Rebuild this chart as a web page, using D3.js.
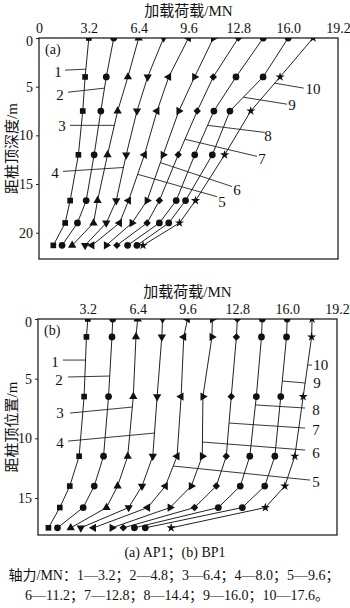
<!DOCTYPE html>
<html>
<head>
<meta charset="utf-8">
<script src="https://cdn.jsdelivr.net/npm/d3@7/dist/d3.min.js"></script>
<style>
  html, body { margin: 0; padding: 0; background: #fff; }
  svg { display: block; }
</style>
</head>
<body>
<svg id="chart" width="350" height="608"></svg>
<script>
// Axial load levels (MN) for the ten loading stages
const loadLevels = [3.2, 4.8, 6.4, 8.0, 9.6, 11.2, 12.8, 14.4, 16.0, 17.6];
const seriesNames = ["1", "2", "3", "4", "5", "6", "7", "8", "9", "10"];
const xTicks = [0, 3.2, 6.4, 9.6, 12.8, 16.0, 19.2];

// Pile AP1: gauge depths (m) and axial force (MN) per stage
const depthsA = [0, 4, 7.5, 12, 16.7, 19, 21.3];
const forceA1 = [3.2, 2.96, 2.81, 2.53, 2.00, 1.68, 0.92];
const forceA2 = [4.8, 4.32, 3.97, 3.54, 3.03, 2.47, 1.48];
const forceA3 = [6.4, 5.71, 5.05, 4.40, 3.76, 3.50, 2.13];
const forceA4 = [8.0, 6.98, 6.29, 5.60, 4.96, 4.32, 2.96];
const forceA5 = [9.6, 8.33, 7.58, 6.77, 5.75, 5.17, 3.40];
const forceA6 = [11.2, 9.99, 8.98, 7.97, 6.94, 5.97, 4.32];
const forceA7 = [12.8, 11.19, 10.16, 8.94, 7.73, 6.94, 5.00];
const forceA8 = [14.4, 12.65, 11.23, 10.00, 8.81, 7.73, 5.69];
const forceA9 = [16.0, 14.39, 12.26, 11.13, 9.41, 8.33, 6.29];
const forceA10 = [17.6, 15.48, 13.60, 11.92, 10.05, 9.02, 6.68];

// Pile BP1: gauge positions (m) and axial force (MN) per stage
const depthsB = [0, 1.5, 6.5, 11.5, 14, 15.8, 17.5];
const forceB1 = [3.2, 3.11, 2.96, 2.64, 2.04, 1.40, 0.67];
const forceB2 = [4.8, 4.75, 4.53, 4.21, 3.61, 2.90, 1.25];
const forceB3 = [6.4, 6.29, 6.12, 5.76, 5.11, 4.40, 2.10];
const forceB4 = [8.0, 7.95, 7.65, 7.37, 6.68, 5.82, 2.75];
const forceB5 = [9.6, 9.36, 9.19, 8.93, 8.18, 7.04, 3.57];
const forceB6 = [11.2, 11.17, 10.59, 10.55, 9.84, 8.48, 4.75];
const forceB7 = [12.8, 12.74, 12.41, 12.09, 11.45, 10.05, 5.48];
const forceB8 = [14.4, 14.35, 14.02, 13.60, 12.99, 11.58, 6.19];
const forceB9 = [16.0, 15.96, 15.59, 15.21, 14.56, 13.12, 6.89];
const forceB10 = [17.6, 17.57, 17.03, 16.49, 15.85, 14.60, 8.55];

// Leader labels: label centre, leader start (in load/depth units) and the depth where it meets its curve
const leadersA = [
  { s: 0, lx: 1.22, ly: 3.5, px: 1.67, py: 3.3, cd: 3.2 },
  { s: 1, lx: 1.35, ly: 5.8, px: 1.86, py: 5.57, cd: 5.15 },
  { s: 2, lx: 1.48, ly: 9.0, px: 1.99, py: 8.97, cd: 8.97 },
  { s: 3, lx: 1.03, ly: 13.8, px: 1.54, py: 13.7, cd: 13.3 },
  { s: 4, lx: 11.75, ly: 16.8, px: 11.43, py: 16.3, cd: 14.0 },
  { s: 5, lx: 12.72, ly: 15.6, px: 12.4, py: 15.26, cd: 12.8 },
  { s: 6, lx: 14.32, ly: 12.4, px: 14.0, py: 12.16, cd: 10.4 },
  { s: 7, lx: 14.7, ly: 10.0, px: 14.5, py: 9.7, cd: 8.97 },
  { s: 8, lx: 16.25, ly: 6.9, px: 15.93, py: 6.8, cd: 6.08 },
  { s: 9, lx: 17.6, ly: 5.26, px: 17.0, py: 5.15, cd: 4.64 }
];
const leadersB = [
  { s: 0, lx: 1.09, ly: 3.6, px: 1.6, py: 3.44, cd: 3.44 },
  { s: 1, lx: 1.35, ly: 5.11, px: 1.93, py: 4.86, cd: 4.78 },
  { s: 2, lx: 1.41, ly: 7.88, px: 2.06, py: 7.88, cd: 7.38 },
  { s: 3, lx: 1.41, ly: 10.39, px: 1.93, py: 10.23, cd: 9.56 },
  { s: 4, lx: 17.85, ly: 13.66, px: 17.47, py: 13.5, cd: 12.32 },
  { s: 5, lx: 17.85, ly: 11.23, px: 17.15, py: 10.98, cd: 10.31 },
  { s: 6, lx: 17.85, ly: 9.3, px: 17.15, py: 9.14, cd: 8.72 },
  { s: 7, lx: 17.85, ly: 7.63, px: 17.15, py: 7.46, cd: 7.2 },
  { s: 8, lx: 17.92, ly: 5.36, px: 17.15, py: 5.36, cd: 5.2 },
  { s: 9, lx: 18.15, ly: 3.86, px: 17.6, py: 3.86, cd: 3.86 }
];

const seriesA = [forceA1, forceA2, forceA3, forceA4, forceA5, forceA6, forceA7, forceA8, forceA9, forceA10];
const seriesB = [forceB1, forceB2, forceB3, forceB4, forceB5, forceB6, forceB7, forceB8, forceB9, forceB10];

// Marker per loading stage: symbol type, rotation (deg), area
const markers = [
  { type: d3.symbolSquare, rot: 0, size: 32 },
  { type: d3.symbolCircle, rot: 0, size: 36 },
  { type: d3.symbolTriangle, rot: 0, size: 30 },
  { type: d3.symbolTriangle, rot: 180, size: 30 },
  { type: d3.symbolTriangle, rot: -90, size: 30 },
  { type: d3.symbolTriangle, rot: 90, size: 30 },
  { type: d3.symbolSquare, rot: 45, size: 28 },
  { type: d3.symbolCircle, rot: 0, size: 36 },
  { type: d3.symbolCircle, rot: 0, size: 36 },
  { type: d3.symbolStar, rot: 0, size: 26 }
];

const FONT = '"Liberation Serif", "DejaVu Serif", "Noto Sans CJK SC", serif';
const svg = d3.select("#chart");

function label(sel, size) {
  return sel.attr("font-family", FONT).style("font-family", FONT)
    .style("font-size", size + "px").attr("fill", "#111");
}

function drawPanel(opt) {
  const { top, bottom, left, right, yMax, yTicks, series, depths, leaders, tag, yTitle, xTickVals, panelId } = opt;
  const x = d3.scaleLinear().domain([0, 19.2]).range([left, right]);
  const y = d3.scaleLinear().domain([0, yMax]).range([top, bottom]);
  const g = svg.append("g");

  g.append("defs").append("clipPath").attr("id", "clip" + panelId)
    .append("rect").attr("x", left).attr("y", top)
    .attr("width", right - left).attr("height", bottom - top);

  // Load axis along the top
  const xAxis = g.append("g").attr("transform", `translate(0,${top})`)
    .call(d3.axisTop(x).tickValues(xTickVals).tickSize(0).tickPadding(5)
      .tickFormat(d => d === 0 ? "0" : d3.format(".1f")(d)));
  xAxis.attr("font-family", null).attr("font-size", null);
  xAxis.select(".domain").remove();
  label(xAxis.selectAll("text"), 14);

  // Depth axis on the left
  const yAxis = g.append("g").attr("transform", `translate(${left},0)`)
    .call(d3.axisLeft(y).tickValues(yTicks).tickSize(3).tickPadding(3));
  yAxis.attr("font-family", null).attr("font-size", null);
  yAxis.select(".domain").remove();
  yAxis.selectAll("line").attr("stroke", "#222");
  label(yAxis.selectAll("text"), 14);
  yAxis.selectAll(".tick").filter(d => d === 0).select("text").attr("dy", "0.55em");

  // Frame
  g.append("rect").attr("x", left).attr("y", top)
    .attr("width", right - left).attr("height", bottom - top)
    .attr("fill", "none").attr("stroke", "#222").attr("stroke-width", 1.3);

  // Axis titles
  label(svg.append("text").attr("x", (left + right) / 2).attr("y", top - 22)
    .attr("text-anchor", "middle").text("加载荷载/MN"), 15);
  label(svg.append("text")
    .attr("transform", `translate(12,${(top + bottom) / 2}) rotate(-90)`)
    .attr("text-anchor", "middle").attr("dy", "0.35em").text(yTitle), 15);

  // Panel tag
  label(g.append("text").attr("x", left + 6).attr("y", top + 16).text(tag), 14);

  const plot = g.append("g").attr("clip-path", `url(#clip${panelId})`);
  const line = d3.line().x(d => x(d[0])).y(d => y(d[1]));

  series.forEach((vals, i) => {
    const pts = vals.map((v, k) => [v, depths[k]]);
    plot.append("path").attr("d", line(pts)).attr("fill", "none")
      .attr("stroke", "#222").attr("stroke-width", 1);
    const m = markers[i];
    const sym = d3.symbol().type(m.type).size(m.size);
    plot.selectAll(null).data(pts).enter().append("path")
      .attr("d", sym)
      .attr("transform", d => `translate(${x(d[0])},${y(d[1])}) rotate(${m.rot})`)
      .attr("fill", "#111");
  });

  // Leader lines with stage numbers
  leaders.forEach(L => {
    const vals = series[L.s];
    const cx = d3.scaleLinear().domain(depths).range(vals)(L.cd);
    g.append("line")
      .attr("x1", x(L.px)).attr("y1", y(L.py))
      .attr("x2", x(cx)).attr("y2", y(L.cd))
      .attr("stroke", "#222").attr("stroke-width", 0.9);
    label(g.append("text").attr("x", x(L.lx)).attr("y", y(L.ly))
      .attr("text-anchor", "middle").attr("dy", "0.35em")
      .text(seriesNames[L.s]), 15);
  });
}

drawPanel({
  panelId: "a", top: 38, bottom: 259, left: 39, right: 338, yMax: 22.7,
  yTicks: [0, 5, 10, 15, 20], series: seriesA, depths: depthsA, leaders: leadersA,
  tag: "(a)", yTitle: "距桩顶深度/m", xTickVals: xTicks
});
drawPanel({
  panelId: "b", top: 319, bottom: 535, left: 38, right: 337, yMax: 18.1,
  yTicks: [0, 5, 10, 15], series: seriesB, depths: depthsB, leaders: leadersB,
  tag: "(b)", yTitle: "距桩顶位置/m", xTickVals: xTicks.slice(1)
});

// Captions
label(svg.append("text").attr("x", 175).attr("y", 557).attr("text-anchor", "middle")
  .text("(a) AP1；(b) BP1"), 14);
const legendLine1 = "轴力/MN：" + loadLevels.slice(0, 5).map((v, i) => `${seriesNames[i]}—${v.toFixed(1)}；`).join("");
const legendLine2 = loadLevels.slice(5).map((v, i) => `${seriesNames[i + 5]}—${v.toFixed(1)}`).join("；") + "。";
label(svg.append("text").attr("x", 174).attr("y", 580).attr("text-anchor", "middle").text(legendLine1), 14);
label(svg.append("text").attr("x", 177).attr("y", 600).attr("text-anchor", "middle").text(legendLine2), 14);
</script>
</body>
</html>
